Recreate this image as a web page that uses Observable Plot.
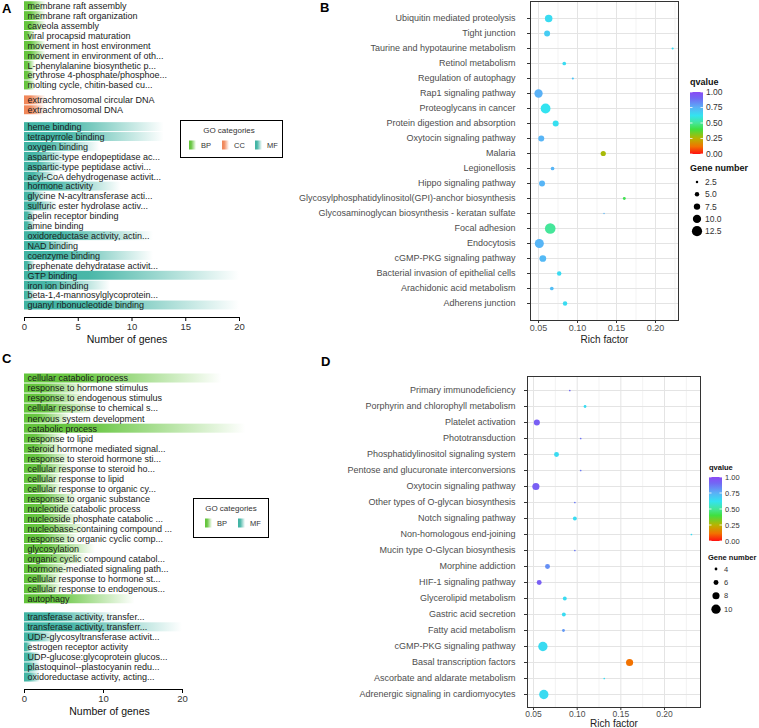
<!DOCTYPE html>
<html><head><meta charset="utf-8">
<script src="https://cdn.jsdelivr.net/npm/d3@7"></script>
<script src="https://cdn.jsdelivr.net/npm/@observablehq/plot@0.6"></script>
<style>
html,body{margin:0;padding:0;background:#fff;}
#fig{position:relative;width:759px;height:728px;overflow:hidden;background:#fff;}
.panel{position:absolute;}
</style></head><body>
<div id="fig"></div>
<script>
// ---------------- DATA ----------------
const A_BP_terms = ["membrane raft assembly","membrane raft organization","caveola assembly","viral procapsid maturation","movement in host environment","movement in environment of oth...","L-phenylalanine biosynthetic p...","erythrose 4-phosphate/phosphoe...","molting cycle, chitin-based cu..."];
const A_BP_genes = [2,2,2,1,2,2,1,1,1];
const A_CC_terms = ["extrachromosomal circular DNA","extrachromosomal DNA"];
const A_CC_genes = [2,2];
const A_MF_terms = ["heme binding","tetrapyrrole binding","oxygen binding","aspartic-type endopeptidase ac...","aspartic-type peptidase activi...","acyl-CoA dehydrogenase activit...","hormone activity","glycine N-acyltransferase acti...","sulfuric ester hydrolase activ...","apelin receptor binding","amine binding","oxidoreductase activity, actin...","NAD binding","coenzyme binding","prephenate dehydratase activit...","GTP binding","iron ion binding","beta-1,4-mannosylglycoprotein...","guanyl ribonucleotide binding"];
const A_MF_genes = [13,13,7,4,4,3,9,2,3,1,1,12,5,12,1,20,8,1,20];
const A_ticks = [0,5,10,15,20];

const C_BP_terms = ["cellular catabolic process","response to hormone stimulus","response to endogenous stimulus","cellular response to chemical s...","nervous system development","catabolic process","response to lipid","steroid hormone mediated signal...","response to steroid hormone sti...","cellular response to steroid ho...","cellular response to lipid","cellular response to organic cy...","response to organic substance","nucleotide catabolic process","nucleoside phosphate catabolic ...","nucleobase-containing compound ...","response to organic cyclic comp...","glycosylation","organic cyclic compound catabol...","hormone-mediated signaling path...","cellular response to hormone st...","cellular response to endogenous...","autophagy"];
const C_BP_genes = [25,8,8,9,6,28,5,5,6,6,5,5,7,7,7,8,7,9,8,6,5,5,14];
const C_MF_terms = ["transferase activity, transfer...","transferase activity, transferr...","UDP-glycosyltransferase activit...","estrogen receptor activity","UDP-glucose:glycoprotein glucos...","plastoquinol--plastocyanin redu...","oxidoreductase activity, acting..."];
const C_MF_genes = [12,20,4,1,2,2,2];
const C_ticks = [0,10,20];

const B_terms = ["Ubiquitin mediated proteolysis","Tight junction","Taurine and hypotaurine metabolism","Retinol metabolism","Regulation of autophagy","Rap1 signaling pathway","Proteoglycans in cancer","Protein digestion and absorption","Oxytocin signaling pathway","Malaria","Legionellosis","Hippo signaling pathway","Glycosylphosphatidylinositol(GPI)-anchor biosynthesis","Glycosaminoglycan biosynthesis - keratan sulfate","Focal adhesion","Endocytosis","cGMP-PKG signaling pathway","Bacterial invasion of epithelial cells","Arachidonic acid metabolism","Adherens junction"];
const B_rich = [0.063,0.061,0.222,0.083,0.094,0.050,0.059,0.072,0.0535,0.133,0.068,0.0545,0.160,0.134,0.065,0.051,0.0555,0.0765,0.067,0.084];
const B_genes = [9,7,2,4,2,10,12,7,7,6,4,7,3,1,13,11,8,5,4,5];
const B_q = [0.64,0.68,0.64,0.64,0.70,0.75,0.62,0.63,0.74,0.27,0.74,0.74,0.42,0.74,0.50,0.74,0.73,0.64,0.72,0.64];
const B_sizeLegend = [2.5,5.0,7.5,10.0,12.5];

const D_terms = ["Primary immunodeficiency","Porphyrin and chlorophyll metabolism","Platelet activation","Phototransduction","Phosphatidylinositol signaling system","Pentose and glucuronate interconversions","Oxytocin signaling pathway","Other types of O-glycan biosynthesis","Notch signaling pathway","Non-homologous end-joining","Mucin type O-Glycan biosynthesis","Morphine addiction","HIF-1 signaling pathway","Glycerolipid metabolism","Gastric acid secretion","Fatty acid metabolism","cGMP-PKG signaling pathway","Basal transcription factors","Ascorbate and aldarate metabolism","Adrenergic signaling in cardiomyocytes"];
const D_rich = [0.0915,0.109,0.0538,0.104,0.0763,0.104,0.0527,0.0973,0.0973,0.2308,0.0973,0.066,0.0565,0.0858,0.0847,0.0843,0.0607,0.160,0.131,0.0618];
const D_genes = [3,4,7,3,6,3,8,3,5,3,3,6,6,5,5,4,10,8,3,10];
const D_q = [0.90,0.64,0.93,0.88,0.64,0.86,0.93,0.86,0.64,0.64,0.86,0.82,0.93,0.64,0.64,0.80,0.64,0.12,0.64,0.64];
const D_sizeLegend = [4,6,8,10];

const richMajor = [0.05,0.10,0.15,0.20];
const qTicks = [0,0.25,0.5,0.75,1];

// ---------------- STYLE ----------------
const FONT = '"Liberation Sans", Arial, Helvetica, sans-serif';
const catColor = {BP:"#62c43a", CC:"#f08658", MF:"#3fb3a3"};
const qStops = [0,0.12,0.25,0.4,0.5,0.62,0.75,0.9,1];
const qColors = ["#ff1010","#f27200","#b8b400","#3fe040","#45e69a","#33e3f0","#5ab1f6","#7268f4","#8a4af4"];
const qInterp = d3.scaleLinear().domain(qStops).range(qColors).interpolate(d3.interpolateRgb).clamp(true);

const fig = d3.select("#fig");
const defs = fig.append("svg").attr("width",0).attr("height",0).style("position","absolute").append("defs");
for (const [k,c] of Object.entries(catColor)) {
  const g = defs.append("linearGradient").attr("id","grad"+k).attr("x1",0).attr("x2",1).attr("y1",0).attr("y2",0);
  g.append("stop").attr("offset",0).attr("stop-color",c).attr("stop-opacity",1);
  g.append("stop").attr("offset",0.3).attr("stop-color",c).attr("stop-opacity",0.95);
  g.append("stop").attr("offset",1).attr("stop-color",c).attr("stop-opacity",0);
}

function place(node, left, top) {
  fig.append("div").attr("class","panel").style("left",left+"px").style("top",top+"px").node().appendChild(node);
}

// ---------------- GO bar panels ----------------
function goPanel(o) {
  const rows = []; let pos = 0;
  o.groups.forEach((g, gi) => {
    if (gi > 0) pos += o.gaps[gi-1];
    g.terms.forEach((t, i) => { rows.push({cat:g.cat, term:t, n:g.genes[i], pos}); pos += 1; });
  });
  const last = pos - 1;
  const chart = Plot.plot({
    width:o.width, height:o.height,
    marginLeft:o.ml, marginRight:o.mr, marginTop:0, marginBottom:o.mb,
    style:{fontFamily:FONT, fontSize:"9px", background:"transparent", overflow:"visible"},
    x:{domain:[0,20]},
    y:{domain:[0,last], range:o.yRange, axis:null},
    marks:[
      ...o.groups.map(g => Plot.rect(rows.filter(r => r.cat === g.cat), {
        x1:() => 0, x2:"n", y1:d => d.pos - 0.45, y2:d => d.pos + 0.45, fill:`url(#grad${g.cat})`
      })),
      Plot.text(rows, {x:() => 0, y:"pos", text:"term", textAnchor:"start", dx:3, fill:"#1a1a1a", fontSize:9}),
      Plot.frame({anchor:"bottom", stroke:"#000"}),
      Plot.axisX({ticks:o.ticks, tickSize:4, tickPadding:2, stroke:"#000", fill:"#333", fontSize:9.5, label:null}),
      Plot.text(["Number of genes"], {frameAnchor:"bottom", lineAnchor:"middle", dy:o.titleDy, dx:o.titleDx, text:d => d, fontSize:10.5, fill:"#111"})
    ]
  });
  place(chart, o.left, o.top);
}

goPanel({
  groups:[{cat:"BP",terms:A_BP_terms,genes:A_BP_genes},{cat:"CC",terms:A_CC_terms,genes:A_CC_genes},{cat:"MF",terms:A_MF_terms,genes:A_MF_genes}],
  gaps:[0.5,0.7], left:0, top:0, width:260, height:345, ml:24, mr:21, mb:28,
  yRange:[5.7,305], ticks:A_ticks, titleDy:22, titleDx:-5
});
goPanel({
  groups:[{cat:"BP",terms:C_BP_terms,genes:C_BP_genes},{cat:"MF",terms:C_MF_terms,genes:C_MF_genes}],
  gaps:[0.8], left:0, top:345, width:250, height:383, ml:24, mr:68, mb:39,
  yRange:[33,332], ticks:C_ticks, titleDy:22, titleDx:6
});

// ---------------- bubble panels ----------------
function bubblePanel(o) {
  const rows = o.terms.map((t,i) => ({term:t, rich:o.rich[i], n:o.genes[i], q:o.q[i]}));
  const minor = richMajor.map(v => v + 0.025).filter(v => v < o.xDomain[1]);
  const chart = Plot.plot({
    width:o.width, height:o.height,
    marginLeft:o.ml, marginRight:o.mr, marginTop:o.mt, marginBottom:o.mb,
    style:{fontFamily:FONT, fontSize:"9px", background:"transparent", overflow:"visible"},
    x:{domain:o.xDomain},
    y:{type:"point", domain:o.terms, padding:0.6},
    r:{type:"linear", domain:o.rDomain, range:o.rRange},
    color:{type:"linear", domain:[0,1], interpolate:t => qInterp(t)},
    marks:[
      Plot.gridX(minor, {stroke:"#f3f3f3", strokeOpacity:1}),
      Plot.gridX(richMajor, {stroke:"#e4e4e4", strokeOpacity:1}),
      Plot.gridY(o.terms, {stroke:"#e4e4e4", strokeOpacity:1}),
      Plot.dot(rows, {x:"rich", y:"term", r:"n", fill:"q"}),
      Plot.frame({stroke:"#333"}),
      Plot.axisY({tickSize:3, tickPadding:o.ytp, stroke:"#333", fill:"#4d4d4d", fontSize:9, label:null}),
      Plot.axisX({ticks:richMajor, tickSize:3, tickPadding:o.xtp, stroke:"#333", fill:"#4d4d4d", fontSize:o.xfs, tickFormat:d3.format(".2f"), label:null}),
      Plot.text(["Rich factor"], {frameAnchor:"bottom", lineAnchor:"middle", dy:o.titleDy, text:d => d, fontSize:10, fill:"#222"})
    ]
  });
  place(chart, o.left, o.top);
}

const rB = d3.scaleLinear([0,12.5],[0.3,5.1]);
const rD = d3.scaleLinear([3,11],[0.85,5.2]);

bubblePanel({terms:B_terms, rich:B_rich, genes:B_genes, q:B_q,
  left:280, top:0, width:479, height:345, ml:250, mr:81, mt:1, mb:25,
  xDomain:[0.0397,0.2295], rDomain:rB.domain(), rRange:rB.range(), ytp:12, xtp:1, xfs:9, titleDy:19});
bubblePanel({terms:D_terms, rich:D_rich, genes:D_genes, q:D_q,
  left:280, top:345, width:479, height:383, ml:247, mr:59, mt:31, mb:21,
  xDomain:[0.0431,0.2412], rDomain:rD.domain(), rRange:rD.range(), ytp:9, xtp:0, xfs:8.5, titleDy:16});

// ---------------- overlay: letters & legends ----------------
const ov = fig.append("svg").attr("width",759).attr("height",728)
  .style("position","absolute").style("left","0px").style("top","0px").style("font-family",FONT);

[["A",2,13],["B",320,12],["C",2,363],["D",321,366]].forEach(([t,x,y]) =>
  ov.append("text").attr("x",x).attr("y",y).attr("font-weight","bold").attr("font-size",13).attr("fill","#000").text(t));

function goLegend(x, y, w, h, cats, keyXs, titleX) {
  ov.append("rect").attr("x",x).attr("y",y).attr("width",w).attr("height",h)
    .attr("fill","#fff").attr("stroke","#000").attr("stroke-width",1);
  ov.append("text").attr("x",titleX).attr("y",y+10).attr("dy","0.35em").attr("text-anchor","middle")
    .attr("font-size",8).attr("fill","#333").text("GO categories");
  cats.forEach((c,i) => {
    ov.append("rect").attr("x",keyXs[i]).attr("y",y+20).attr("width",7).attr("height",9).attr("fill",`url(#grad${c})`);
    ov.append("text").attr("x",keyXs[i]+12).attr("y",y+24.5).attr("dy","0.35em")
      .attr("font-size",7.5).attr("fill","#333").text(c);
  });
}
goLegend(180.5,120.5,102,37,["BP","CC","MF"],[189,222,255],229);
goLegend(193.5,498.5,75,39,["BP","MF"],[205,238],231);

function qLegend(x, titleY, barY, barH, barW, labFs, titleFs) {
  const id = "qgrad" + Math.round(barY);
  const g = defs.append("linearGradient").attr("id",id).attr("x1",0).attr("y1",1).attr("x2",0).attr("y2",0);
  qStops.forEach((s,i) => g.append("stop").attr("offset",s).attr("stop-color",qColors[i]));
  ov.append("text").attr("x",x).attr("y",titleY).attr("dy","0.35em").attr("font-weight","bold")
    .attr("font-size",titleFs).attr("fill","#111").text("qvalue");
  ov.append("rect").attr("x",x).attr("y",barY).attr("width",barW).attr("height",barH).attr("fill",`url(#${id})`);
  qTicks.forEach(t => {
    const ty = barY + barH - t*barH;
    ov.append("line").attr("x1",x).attr("x2",x+2.5).attr("y1",ty).attr("y2",ty).attr("stroke","#fff").attr("stroke-width",0.8);
    ov.append("line").attr("x1",x+barW-2.5).attr("x2",x+barW).attr("y1",ty).attr("y2",ty).attr("stroke","#fff").attr("stroke-width",0.8);
    ov.append("text").attr("x",x+barW+3).attr("y",ty).attr("dy","0.35em").attr("font-size",labFs)
      .attr("fill","#333").text(d3.format(".2f")(t));
  });
}
function sizeLegend(x, titleY, vals, r, y0, step, dotX, textX, labFs, titleFs) {
  const decimals = vals.some(u => u % 1 !== 0);
  ov.append("text").attr("x",x).attr("y",titleY).attr("dy","0.35em").attr("font-weight","bold")
    .attr("font-size",titleFs).attr("fill","#111").text("Gene number");
  vals.forEach((v,i) => {
    const cy = y0 + i*step;
    ov.append("circle").attr("cx",dotX).attr("cy",cy).attr("r",r(v)).attr("fill","#000");
    ov.append("text").attr("x",textX).attr("y",cy).attr("dy","0.35em").attr("font-size",labFs)
      .attr("fill","#333").text(decimals ? d3.format(".1f")(v) : String(v));
  });
}
qLegend(690, 81.5, 92, 62, 13, 8.5, 9);
sizeLegend(690, 168, B_sizeLegend, rB, 182, 12.3, 697, 705, 8.5, 9);
qLegend(709, 467, 477, 64, 13, 7.5, 7.5);
sizeLegend(708, 557, D_sizeLegend, rD, 569, 13.4, 716, 724, 7.5, 7.5);
</script>
</body></html>
